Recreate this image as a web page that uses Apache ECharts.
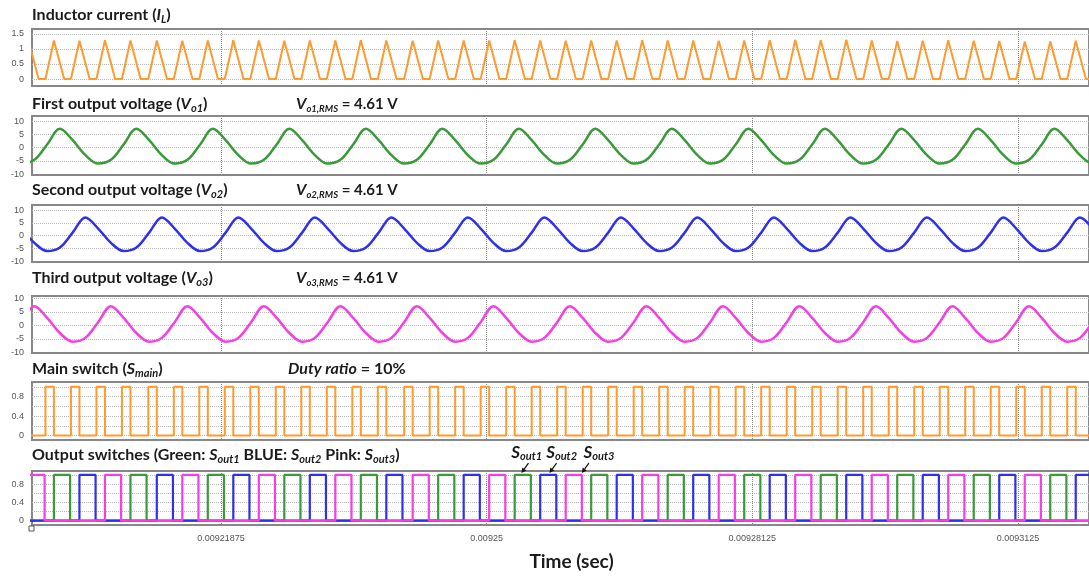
<!DOCTYPE html>
<html>
  <head>
    <meta charset="utf-8" />
    <title>Inductor current and output waveforms</title>
    <script src="https://cdn.jsdelivr.net/npm/echarts@6/dist/echarts.min.js"></script>
    <style>
      html, body { margin: 0; padding: 0; background: #fff; }
      #main { width: 1089px; height: 576px; }
    </style>
  </head>
  <body>
    <div id="main"></div>
    <script>
      // time is kept in microseconds, the axis prints it in seconds
      var tMin = 9196.52, tMax = 9320.86;
      var timeTicks = [9218.75, 9250, 9281.25, 9312.5];
      var timeTickLabels = ['0.00921875', '0.00925', '0.00928125', '0.0093125'];

      // rising edge of the main switch in every switching period
      var mainOn = [
        9195.1, 9198.1, 9201.1, 9204.1, 9207.1, 9210.2, 9213.2, 9216.2, 9219.2, 9222.2,
        9225.2, 9228.2, 9231.2, 9234.2, 9237.2, 9240.3, 9243.3, 9246.3, 9249.3, 9252.3,
        9255.3, 9258.3, 9261.3, 9264.3, 9267.3, 9270.3, 9273.3, 9276.3, 9279.3, 9282.3,
        9285.3, 9288.3, 9291.3, 9294.3, 9297.3, 9300.3, 9303.3, 9306.3, 9309.3, 9312.3,
        9315.3, 9318.3, 9321.3
      ];
      var mainWidth = 1.0;   // main switch on time (us)
      var outOff = 2.9;      // output switch turns off this long after mainOn (us)
      var ilFall = 1.2;      // inductor current falls to zero in this time (us)
      // peak of the inductor current in each period (A)
      var ilPeak = [
        1.28, 1.28, 1.27, 1.29, 1.28, 1.28, 1.27, 1.28, 1.29, 1.28,
        1.27, 1.28, 1.28, 1.29, 1.28, 1.27, 1.28, 1.28, 1.28, 1.29,
        1.28, 1.27, 1.28, 1.28, 1.29, 1.28, 1.28, 1.27, 1.28, 1.29,
        1.30, 1.29, 1.30, 1.28, 1.26, 1.27, 1.29, 1.27, 1.26, 1.24,
        1.25, 1.27, 1.28
      ];
      // which output switch conducts after each main pulse (1 green, 2 blue, 3 pink)
      var outSwitch = [
        3, 1, 2, 3, 1, 2, 3, 1, 2, 3, 1, 2, 3, 1, 2, 3, 1, 2, 3, 1, 2, 3,
        1, 2, 3, 1, 2, 3, 1, 2, 3, 1, 2, 3, 1, 2, 3, 1, 2, 3, 1, 2, 3
      ];

      // output voltages, read every 1.5 us
      var voTime = [
        9195.3, 9196.8, 9198.3, 9199.8, 9201.3, 9202.8,
        9204.3, 9205.8, 9207.3, 9208.8, 9210.3, 9211.8,
        9213.3, 9214.8, 9216.3, 9217.8, 9219.3, 9220.8,
        9222.3, 9223.8, 9225.3, 9226.8, 9228.3, 9229.8,
        9231.3, 9232.8, 9234.3, 9235.8, 9237.3, 9238.8,
        9240.3, 9241.8, 9243.3, 9244.8, 9246.3, 9247.8,
        9249.3, 9250.8, 9252.3, 9253.8, 9255.3, 9256.8,
        9258.3, 9259.8, 9261.3, 9262.8, 9264.3, 9265.8,
        9267.3, 9268.8, 9270.3, 9271.8, 9273.3, 9274.8,
        9276.3, 9277.8, 9279.3, 9280.8, 9282.3, 9283.8,
        9285.3, 9286.8, 9288.3, 9289.8, 9291.3, 9292.8,
        9294.3, 9295.8, 9297.3, 9298.8, 9300.3, 9301.8,
        9303.3, 9304.8, 9306.3, 9307.8, 9309.3, 9310.8,
        9312.3, 9313.8, 9315.3, 9316.8, 9318.3, 9319.8,
        9321.3, 9322.8
      ];
      var vo1 = [
        -6.0, -4.6, 1.2, 7.1, 2.8, -2.8,
        -6.0, -4.6, 1.2, 7.1, 2.8, -2.8,
        -6.0, -4.6, 1.2, 7.1, 2.8, -2.8,
        -6.0, -4.6, 1.2, 7.1, 2.8, -2.8,
        -6.0, -4.6, 1.2, 7.1, 2.8, -2.8,
        -6.0, -4.6, 1.2, 7.1, 2.8, -2.8,
        -6.0, -4.6, 1.2, 7.1, 2.8, -2.8,
        -6.0, -4.6, 1.2, 7.1, 2.8, -2.8,
        -6.0, -4.6, 1.2, 7.1, 2.8, -2.8,
        -6.0, -4.6, 1.2, 7.1, 2.8, -2.8,
        -6.0, -4.6, 1.2, 7.1, 2.8, -2.8,
        -6.0, -4.6, 1.2, 7.1, 2.8, -2.8,
        -6.0, -4.6, 1.2, 7.1, 2.8, -2.8,
        -6.0, -4.6, 1.2, 7.1, 2.8, -2.8,
        -6.0, -4.6
      ];
      var vo2 = [
        2.8, -2.8, -6.0, -4.6, 1.2, 7.1,
        2.8, -2.8, -6.0, -4.6, 1.2, 7.1,
        2.8, -2.8, -6.0, -4.6, 1.2, 7.1,
        2.8, -2.8, -6.0, -4.6, 1.2, 7.1,
        2.8, -2.8, -6.0, -4.6, 1.2, 7.1,
        2.8, -2.8, -6.0, -4.6, 1.2, 7.1,
        2.8, -2.8, -6.0, -4.6, 1.2, 7.1,
        2.8, -2.8, -6.0, -4.6, 1.2, 7.1,
        2.8, -2.8, -6.0, -4.6, 1.2, 7.1,
        2.8, -2.8, -6.0, -4.6, 1.2, 7.1,
        2.8, -2.8, -6.0, -4.6, 1.2, 7.1,
        2.8, -2.8, -6.0, -4.6, 1.2, 7.1,
        2.8, -2.8, -6.0, -4.6, 1.2, 7.1,
        2.8, -2.8, -6.0, -4.6, 1.2, 7.1,
        2.8, -2.8
      ];
      var vo3 = [
        1.2, 7.1, 2.8, -2.8, -6.0, -4.6,
        1.2, 7.1, 2.8, -2.8, -6.0, -4.6,
        1.2, 7.1, 2.8, -2.8, -6.0, -4.6,
        1.2, 7.1, 2.8, -2.8, -6.0, -4.6,
        1.2, 7.1, 2.8, -2.8, -6.0, -4.6,
        1.2, 7.1, 2.8, -2.8, -6.0, -4.6,
        1.2, 7.1, 2.8, -2.8, -6.0, -4.6,
        1.2, 7.1, 2.8, -2.8, -6.0, -4.6,
        1.2, 7.1, 2.8, -2.8, -6.0, -4.6,
        1.2, 7.1, 2.8, -2.8, -6.0, -4.6,
        1.2, 7.1, 2.8, -2.8, -6.0, -4.6,
        1.2, 7.1, 2.8, -2.8, -6.0, -4.6,
        1.2, 7.1, 2.8, -2.8, -6.0, -4.6,
        1.2, 7.1, 2.8, -2.8, -6.0, -4.6,
        1.2, 7.1
      ];

      // S_out labels: where each arrow points and where its text starts
      var annotTimes = [9254.1, 9257.4, 9261.2];
      var annotTextTimes = [9252.9, 9257.0, 9261.4];
      var annotNames = ['out1', 'out2', 'out3'];

      var FONT = 'Lato';
      var INK = '#1b1b1b';

      // build the polylines
      var ilData = [];
      mainOn.forEach(function (t, k) {
        ilData.push([t, 0], [t + mainWidth, ilPeak[k]], [t + mainWidth + ilFall, 0]);
      });
      var mainData = [];
      mainOn.forEach(function (t) {
        mainData.push([t, 0], [t, 1], [t + mainWidth, 1], [t + mainWidth, 0]);
      });
      function outData(n) {
        var d = [[mainOn[0], 0]];
        mainOn.forEach(function (t, k) {
          if (outSwitch[k] !== n) return;
          var a = t + mainWidth, b = t + outOff;
          d.push([a, 0], [a, 1], [b, 1], [b, 0]);
        });
        d.push([tMax, 0]);
        return d;
      }
      function zip(xs, ys) {
        return xs.map(function (x, i) { return [x, ys[i]]; });
      }

      var rich = {
        t: { fontFamily: FONT, fontWeight: 'bold', fontSize: 16, color: INK, lineHeight: 20 },
        i: { fontFamily: FONT, fontWeight: 'bold', fontStyle: 'italic', fontSize: 16, color: INK, lineHeight: 20 },
        s: { fontFamily: FONT, fontWeight: 'bold', fontStyle: 'italic', fontSize: 11, color: INK, lineHeight: 10, verticalAlign: 'bottom' },
        r: { fontFamily: FONT, fontWeight: 'bold', fontStyle: 'italic', fontSize: 9.5, color: INK, lineHeight: 10, verticalAlign: 'bottom' },
        v: { fontFamily: FONT, fontWeight: 'bold', fontSize: 15, color: INK, lineHeight: 20 }
      };
      function title(text, left, top) {
        return { text: text, left: left, top: top, padding: 0, textStyle: { rich: rich } };
      }

      var grids = [
        { top: 29, height: 57 },
        { top: 116, height: 59 },
        { top: 205, height: 57 },
        { top: 296, height: 57 },
        { top: 382, height: 58 },
        { top: 471, height: 54 }
      ];
      var yRanges = [[-0.23, 1.66], [-10.3, 11.9], [-10.3, 12], [-10.2, 10.9], [-0.09, 1.1], [-0.095, 1.085]];
      var yLabels = [[0, 0.5, 1, 1.5], [-10, -5, 0, 5, 10], [-10, -5, 0, 5, 10], [-10, -5, 0, 5, 10], [0, 0.4, 0.8], [0, 0.4, 0.8]];
      var yLines = [[0, 0.5, 1, 1.5], [-5, 0, 5, 10], [-5, 0, 5, 10], [-5, 0, 5, 10], [0, 0.2, 0.4, 0.6, 0.8, 1], [0, 0.2, 0.4, 0.6, 0.8, 1]];

      var option = {
        animation: false,
        backgroundColor: '#fff',
        title: [
          title('{t|Inductor current (}{i|I}{s|L}{t|)}', 32, 5),
          title('{t|First output voltage (}{i|V}{s|o1}{t|)}', 32, 94),
          title('{i|V}{r|o1,RMS}{v| = 4.61 V}', 296, 94),
          title('{t|Second output voltage (}{i|V}{s|o2}{t|)}', 32, 180),
          title('{i|V}{r|o2,RMS}{v| = 4.61 V}', 296, 180),
          title('{t|Third output voltage (}{i|V}{s|o3}{t|)}', 32, 268),
          title('{i|V}{r|o3,RMS}{v| = 4.61 V}', 296, 268),
          title('{t|Main switch (}{i|S}{s|main}{t|)}', 32, 359),
          title('{i|Duty ratio}{t| = 10%}', 288, 359),
          title('{t|Output switches (Green: }{i|S}{s|out1}{t| BLUE: }{i|S}{s|out2}{t| Pink: }{i|S}{s|out3}{t|)}', 32, 445)
        ],
        grid: grids.map(function (g) {
          return {
            left: 32, right: -4, top: g.top, height: g.height,
            show: true, borderColor: '#878787', borderWidth: 2, backgroundColor: '#fff'
          };
        }),
        xAxis: grids.map(function (g, i) {
          var last = i === grids.length - 1;
          return {
            type: 'value', gridIndex: i, min: tMin, max: tMax,
            axisLine: { show: false },
            axisTick: { show: false, customValues: timeTicks },
            splitLine: { show: true, lineStyle: { color: '#8c8c8c', type: 'dotted', width: 1 } },
            axisLabel: {
              show: last, customValues: timeTicks, fontSize: 9, color: '#555',
              fontFamily: 'Liberation Sans', margin: 9,
              formatter: function (v) { return timeTickLabels[timeTicks.indexOf(v)]; }
            },
            name: last ? 'Time (sec)' : '',
            nameLocation: 'middle', nameGap: 27,
            nameTextStyle: { fontFamily: FONT, fontWeight: 'bold', fontSize: 19, color: INK, padding: [0, 0, 0, 22] }
          };
        }),
        yAxis: grids.map(function (g, i) {
          return {
            type: 'value', gridIndex: i, min: yRanges[i][0], max: yRanges[i][1],
            axisLine: { show: false },
            axisTick: { show: false, customValues: yLines[i] },
            splitLine: { show: true, lineStyle: { color: '#b9b9b9', type: 'dotted', width: 1 } },
            axisLabel: { customValues: yLabels[i], fontSize: 9, color: '#555', fontFamily: 'Liberation Sans', margin: 8 }
          };
        }),
        series: [
          { type: 'line', xAxisIndex: 0, yAxisIndex: 0, data: ilData, showSymbol: false,
            lineStyle: { color: '#ff9a2e', width: 2 } },
          { type: 'line', xAxisIndex: 1, yAxisIndex: 1, data: zip(voTime, vo1), showSymbol: false, smooth: 0.35,
            lineStyle: { color: '#3a9a3a', width: 2.5 } },
          { type: 'line', xAxisIndex: 2, yAxisIndex: 2, data: zip(voTime, vo2), showSymbol: false, smooth: 0.35,
            lineStyle: { color: '#2f2ff0', width: 2.5 } },
          { type: 'line', xAxisIndex: 3, yAxisIndex: 3, data: zip(voTime, vo3), showSymbol: false, smooth: 0.35,
            lineStyle: { color: '#f53ee3', width: 2.5 } },
          { type: 'line', xAxisIndex: 4, yAxisIndex: 4, data: mainData, showSymbol: false,
            lineStyle: { color: '#ff9a2e', width: 2 } },
          { type: 'line', xAxisIndex: 5, yAxisIndex: 5, data: outData(1), showSymbol: false,
            lineStyle: { color: '#3a9a3a', width: 2.2 } },
          { type: 'line', xAxisIndex: 5, yAxisIndex: 5, data: outData(2), showSymbol: false,
            lineStyle: { color: '#2f2ff0', width: 2.2 } },
          { type: 'line', xAxisIndex: 5, yAxisIndex: 5, data: outData(3), showSymbol: false,
            lineStyle: { color: '#f53ee3', width: 2.2 } }
        ]
      };

      var chart = echarts.init(document.getElementById('main'));
      chart.setOption(option);

      // S_out labels with arrows, anchored to the output switch panel
      var graphics = [];
      annotTimes.forEach(function (t, i) {
        var p = chart.convertToPixel({ gridIndex: 5 }, [t, 1.04]);
        var q = chart.convertToPixel({ gridIndex: 5 }, [annotTextTimes[i], 1.04]);
        var sx = p[0] + 7, sy = p[1] - 10;
        var dx = p[0] - sx, dy = p[1] - sy, len = Math.sqrt(dx * dx + dy * dy);
        var ux = dx / len, uy = dy / len;
        var bx = p[0] - ux * 5, by = p[1] - uy * 5;
        graphics.push({
          type: 'line', shape: { x1: sx, y1: sy, x2: bx, y2: by },
          style: { stroke: '#111', lineWidth: 1.2 }
        });
        graphics.push({
          type: 'polygon',
          shape: { points: [[p[0], p[1]], [bx - uy * 2.5, by + ux * 2.5], [bx + uy * 2.5, by - ux * 2.5]] },
          style: { fill: '#111' }
        });
        graphics.push({
          type: 'text', x: q[0], y: p[1] - 21,
          style: {
            text: '{a|S}{b|' + annotNames[i] + '}',
            verticalAlign: 'middle',
            rich: {
              a: { fontFamily: FONT, fontWeight: 'bold', fontStyle: 'italic', fontSize: 17, fill: INK, lineHeight: 20 },
              b: { fontFamily: FONT, fontWeight: 'bold', fontStyle: 'italic', fontSize: 11, fill: INK, lineHeight: 11, verticalAlign: 'bottom' }
            }
          }
        });
      });
      // small origin marker under the last panel
      var o = chart.convertToPixel({ gridIndex: 5 }, [tMin, yRanges[5][0]]);
      graphics.push({
        type: 'rect', shape: { x: o[0] - 3, y: o[1] + 1, width: 5, height: 5 },
        style: { fill: '#fff', stroke: '#555', lineWidth: 1 }
      });
      chart.setOption({ graphic: graphics });
    </script>
  </body>
</html>
